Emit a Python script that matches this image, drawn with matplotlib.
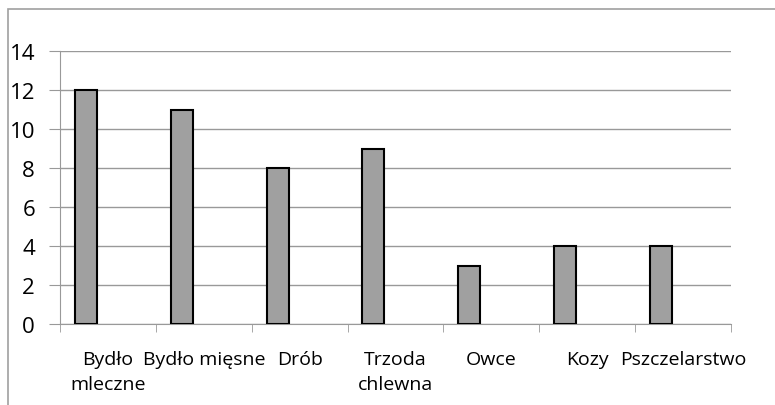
#!/usr/bin/env python

import numpy as np
import matplotlib.pyplot as plt
from matplotlib.patches import Rectangle

categories = ["Bydło\nmleczne", "Bydło mięsne", "Drób", "Trzoda\nchlewna",
              "Owce", "Kozy", "Pszczelarstwo"]
values = [12, 11, 8, 9, 3, 4, 4]
y_ticks = [0, 2, 4, 6, 8, 10, 12, 14]


def main() -> int:
    plt.rcParams["font.family"] = ["Open Sans", "DejaVu Sans"]
    fig = plt.figure(figsize=(7.75, 4.06), dpi=100)

    # outer chart frame (cropped on the right and bottom)
    fig.patches.append(Rectangle((8 / 775, -0.1), 1.2, 1 - 10 / 406 + 0.1,
                                 transform=fig.transFigure, fill=False,
                                 edgecolor="#a0a0a0", linewidth=1.2))

    ax = fig.add_axes([60 / 775, 81 / 406, 671 / 775, 273 / 406])

    # excel-style clustered bar: first slot of three in each category
    x = np.arange(len(categories))
    ax.bar(x + 0.27, values, width=0.23, color="#a0a0a0",
           edgecolor="black", linewidth=1.5, zorder=3)

    ax.set_xlim(0, len(categories))
    ax.set_ylim(0, 14)
    ax.set_yticks(y_ticks)
    ax.yaxis.grid(True, color="#999999", linewidth=1)
    ax.set_axisbelow(True)

    ax.set_xticks(x + 0.5)
    ax.set_xticklabels(categories, fontsize=14, linespacing=1.45)
    ax.set_xticks(np.arange(len(categories) + 1), minor=True)
    ax.tick_params(axis="x", which="major", length=0, pad=19)
    ax.tick_params(axis="x", which="minor", length=6, color="#999999")
    ax.tick_params(axis="y", length=8, color="#999999", labelsize=16, pad=10)

    for side in ["top", "right"]:
        ax.spines[side].set_visible(False)
    for side in ["left", "bottom"]:
        ax.spines[side].set_color("#999999")

    fig.savefig("out.png", dpi=100)
    return 0


if __name__ == "__main__":
    main()
